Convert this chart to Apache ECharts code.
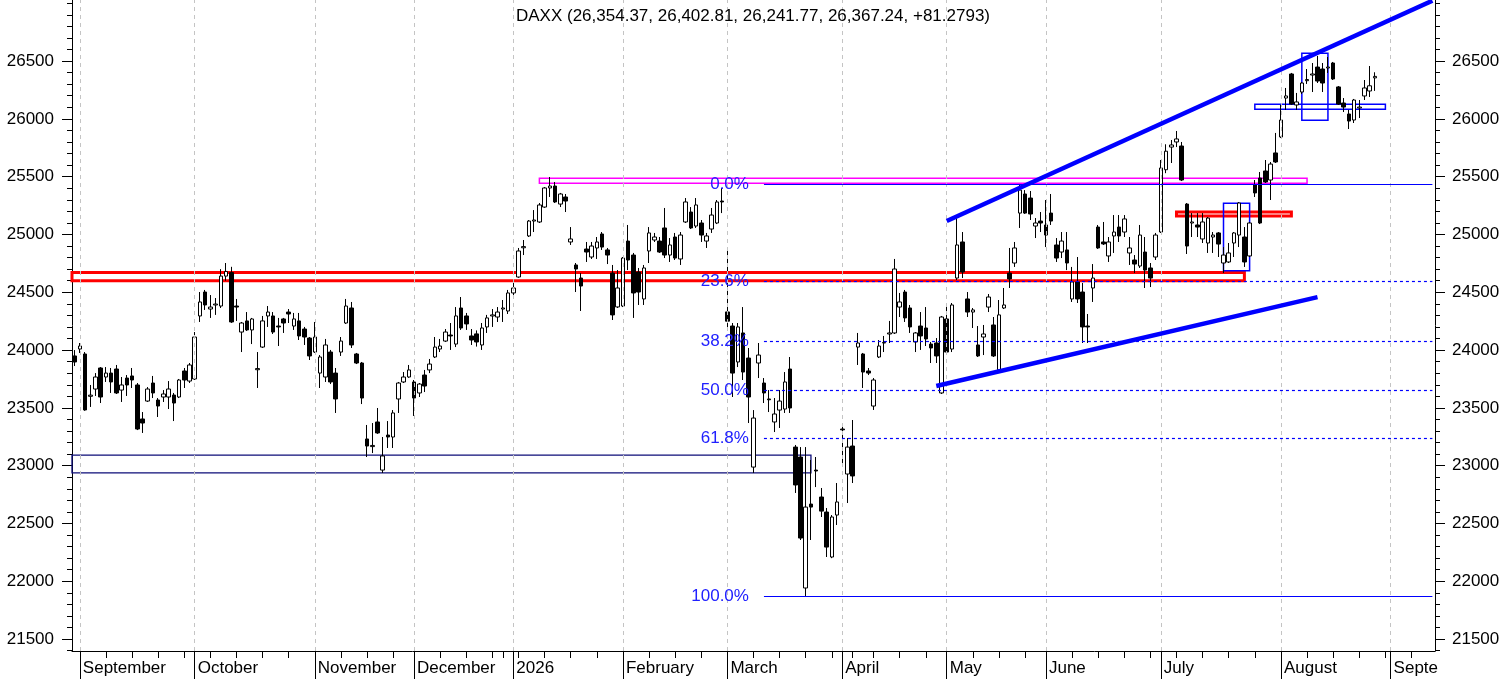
<!DOCTYPE html>
<html>
<head>
<meta charset="utf-8">
<script src="https://cdn.jsdelivr.net/npm/echarts@6/dist/echarts.min.js"></script>
<style>html,body{margin:0;padding:0;background:#fff}#main{width:1506px;height:679px}</style>
</head>
<body>
<div id="main"></div>
<script>
// ---------- DATA ----------
const seriesName = 'DAXX';
const holidays = ['2025-11-27','2025-12-24','2025-12-25','2025-12-26','2025-12-31','2026-01-01','2026-04-03','2026-04-06','2026-05-01','2026-05-25'];
const firstDay = '2025-08-29';
const lastDay = '2026-09-11';
const monthNames = ['January','February','March','April','May','June','July','August','September','October','November','December'];

const openP = [
 // Aug 29 + September
 23949,24009,23966,23600,23663,23845,23767,23801,23836,23654,23758,23776,23698,23404,23559,23715,23568,23594,23594,23611,23594,23819,23732,
 // October
 23750,24295,24502,24355,24390,24381,24640,24670,24381,24156,24252,24174,23830,24026,24295,24295,24208,24269,24329,24208,24252,24182,24104,
 // November
 23983,23801,23767,23983,23801,23983,24234,24364,23966,23888,23231,23165,23378,22962,23265,23248,23577,23724,23767,
 // December
 23724,23629,23784,23828,23940,24009,24078,24130,24052,24364,24295,24122,24140,24044,24200,24295,24286,24355,24338,
 // January
 24494,24632,24885,24987,25116,25108,25237,25402,25419,25263,25324,24935,24736,24623,24874,24805,24883,25004,24866,24666,24373,
 // February
 24381,24943,24822,24675,24442,24857,24952,24943,25056,24822,24978,24788,25108,25194,25073,25099,24943,25047,25099,25289,
 // March
 24330,24208,23897,24148,23931,22988,23888,23715,23577,23378,23481,23490,23836,23161,23075,21942,22668,22962,22729,22599,22210,22573,
 // April
 23317,22928,23170,24026,23966,23819,23516,23940,24061,24139,24148,24372,24502,24364,24070,24208,24191,24052,24061,23629,
 // May
 24269,24009,24623,24935,24442,24329,24044,24113,24372,24217,23828,24364,24666,24753,25185,25350,25315,25073,25116,
 // June
 25082,25185,24909,24848,24866,24442,24589,24502,24208,24537,25064,24935,24814,24987,25064,25021,24840,24779,24727,24848,24710,24805,
 // July
 25021,25560,25756,25800,25765,25263,25099,25082,24961,24926,24978,25013,24753,24762,24926,24995,24978,24814,25428,25488,25549,25471,25705,
 // August
 25843,26180,26388,26120,26232,26330,26379,26448,26431,26440,26483,26276,26137,26042,25990,26094,26198,26241,26354.37
];
const highP = [
 24000,24061,23983,23698,23801,23853,23853,23845,23871,23767,23784,23845,23715,23464,23680,23776,23585,23654,23732,23629,23750,23845,23888,
 24156,24502,24520,24476,24450,24700,24753,24720,24442,24243,24329,24278,23983,24295,24381,24329,24278,24278,24355,24321,24321,24200,24113,
 24243,23957,24096,24001,23845,24113,24442,24416,23975,23897,23352,23369,23499,23248,23386,23481,23724,23810,23871,
 23741,23715,23828,23923,24113,24096,24182,24234,24372,24459,24321,24182,24170,24234,24304,24355,24372,24433,24520,
 24606,24883,24952,25125,25211,25272,25410,25497,25454,25359,25350,25064,24753,24666,24935,24935,24978,25021,24883,24736,24692,
 24805,25082,24840,24710,24736,25064,25013,24978,25229,24969,25013,25021,25315,25237,25315,25125,25013,25229,25298,25402,
 24891,24234,24234,24372,24018,23481,24061,23758,23654,23585,23654,23810,23940,23179,23161,23161,23049,23075,22807,22634,22573,22850,
 23369,23239,23395,24148,23975,23845,23758,24087,24122,24252,24788,24494,24520,24390,24156,24329,24372,24070,24104,24295,
 24407,24407,25151,25021,24502,24364,24208,24217,24485,24286,24433,24537,24883,24935,25428,25384,25376,25142,25194,
 25298,25350,24969,25021,25021,24719,24805,24580,24312,24744,25082,25108,24978,25168,25168,25168,24978,24822,25082,24978,24753,25013,
 25644,25780,25817,25895,25800,25272,25185,25185,25185,25151,25021,25021,24891,24926,25021,25280,25064,25108,25471,25540,25644,25627,25878,
 26120,26267,26397,26224,26319,26431,26483,26544,26483,26535,26492,26284,26180,26077,26172,26163,26336,26457,26402.81
];
const lowP = [
 23862,23975,23475,23508,23603,23542,23724,23629,23620,23551,23603,23672,23308,23283,23551,23585,23421,23551,23490,23386,23585,23672,23715,
 23741,24243,24347,24278,24304,24364,24600,24235,24252,23983,24165,24052,23672,24018,24200,24139,24035,24148,24234,24174,24087,24044,23914,
 23975,23672,23724,23706,23456,23949,24226,24018,23879,23533,23075,23109,23275,22937,23153,23153,23456,23715,23760,
 23430,23594,23637,23801,23931,23983,24070,24001,24026,24174,24174,24044,24030,24001,24148,24200,24243,24243,24312,
 24450,24625,24822,24978,25021,25099,25230,25324,25272,25237,25194,24909,24502,24338,24762,24788,24788,24866,24744,24260,24364,
 24372,24692,24278,24390,24390,24753,24935,24840,24796,24762,24779,24736,25099,25047,25056,24935,24883,25013,25090,25185,
 24180,23594,23853,23741,23369,22937,23758,23542,23464,23291,23326,23456,23456,22764,22357,21873,22357,22815,22556,22210,22200,22487,
 23023,22677,22850,23871,23672,23784,23482,23931,23983,24061,24139,24286,24243,24148,23983,24001,24035,23888,23888,23620,
 23975,23983,24606,24623,24286,24191,23940,23957,24329,23940,23810,24355,24537,24719,25056,25177,25125,24969,25021,
 24891,25082,24762,24796,24692,24416,24407,24061,24061,24416,24875,24909,24762,24840,24935,24978,24736,24666,24710,24537,24545,24779,
 25013,25530,25618,25756,25462,24831,24978,24978,24926,24840,24840,24805,24666,24753,24805,24891,24719,24805,25324,25090,25445,25298,25618,
 25834,26077,26120,26077,26215,26302,26232,26310,26232,26397,26336,26120,26059,25912,25964,26007,26163,26189,26241.77
];
const closeP = [
 23897,24035,23482,23610,23767,23594,23801,23724,23629,23698,23698,23741,23317,23369,23663,23629,23516,23620,23663,23542,23741,23741,23871,
 24113,24416,24390,24372,24398,24640,24680,24243,24372,24234,24174,24269,23840,24252,24329,24156,24200,24234,24312,24269,24122,24113,23949,
 24113,23940,24044,23724,23577,24078,24381,24044,23888,23585,23170,23175,23283,23084,23248,23456,23715,23767,23828,
 23585,23706,23689,23879,24026,24035,24156,24122,24295,24191,24226,24087,24070,24191,24278,24304,24329,24364,24494,
 24537,24857,24895,25116,25125,25255,25402,25419,25281,25350,25289,24961,24701,24554,24848,24900,24935,24891,24822,24304,24537,
 24796,24779,24494,24502,24710,25013,24978,24848,24822,24909,24796,24995,25281,25056,25255,24995,24987,25168,25281,25281,
 24250,23801,24200,23810,23594,23412,23957,23629,23570,23447,23559,23724,23499,22833,22374,22642,22642,22954,22607,22296,22556,22686,
 23310,23161,22911,24061,23810,23801,23741,24035,24066,24148,24701,24416,24278,24200,24148,24122,24096,24018,23949,24286,
 23983,24390,24909,24675,24329,24347,23949,24139,24459,23949,24304,24390,24615,24883,25384,25185,25177,25099,25099,
 24995,25116,24796,24943,24753,24589,24442,24200,24200,24623,24883,24918,24935,25021,24987,25134,24883,24744,24995,24692,24623,24995,
 25575,25720,25774,25826,25471,24900,25108,25064,25108,25142,24995,24917,24822,24840,25013,25272,24762,25099,25359,25099,25454,25609,25627,
 25990,26198,26128,26146,26310,26340,26388,26327,26310,26448,26345,26128,26102,25981,26163,26102,26267,26285.9607,26367.24
];

// y-axis
const yRange = [21397, 27028];
const yTickValues = [21500, 22000, 22500, 23000, 23500, 24000, 24500, 25000, 25500, 26000, 26500];

// Fibonacci retracement (anchored at trading-day index 132)
const fibLabels = ['0.0%', '23.6%', '38.2%', '50.0%', '61.8%', '100.0%'];
const fibValues = [25436, 24595, 24075, 23655, 23234, 21873];
const fibStartIdx = 132;

// trend channel lines: [index, value]
const upperTrend = [[167, 25116], [260, 27022]];
const lowerTrend = [[165, 23689], [238, 24458]];

// rectangles: [fromIdx (null = left edge), toIdx, topValue, bottomValue]
const redRects = [[null, 224, 24671, 24600], [211, 233, 25194, 25160]];
const magentaRects = [[89, 236, 25486, 25442]];
const blueRects = [[226, 251, 26126, 26083], [235, 240, 26567, 25987], [220, 225, 25269, 24686]];
const navyRects = [[null, 141, 23092, 22937]];

// ---------- BUILD ----------
const FONT = '"Liberation Sans", Arial, Helvetica, sans-serif';
const GRID = {left: 72, right: 71, top: 0, bottom: 28};

function buildDays(a, b, hol) {
  const out = [];
  const [y0, m0, d0] = a.split('-').map(Number);
  let t = Date.UTC(y0, m0 - 1, d0);
  const [y1, m1, d1] = b.split('-').map(Number);
  const end = Date.UTC(y1, m1 - 1, d1);
  const hs = new Set(hol);
  while (t <= end) {
    const d = new Date(t);
    const dow = d.getUTCDay();
    const s = d.toISOString().slice(0, 10);
    if (dow !== 0 && dow !== 6 && !hs.has(s)) out.push(s);
    t += 86400000;
  }
  return out;
}
const dates = buildDays(firstDay, lastDay, holidays);
const N = dates.length;
const monthStart = dates.map((d, i) => i > 0 && d.slice(5, 7) !== dates[i - 1].slice(5, 7));
const weekStart = dates.map((d, i) => {
  if (i === 0) return false;
  const a = new Date(d + 'T00:00:00Z').getUTCDay();
  const b = new Date(dates[i - 1] + 'T00:00:00Z').getUTCDay();
  return a < b;
});

const el = document.getElementById('main');
const chart = echarts.init(el, null, {renderer: 'canvas'});
const plotW = chart.getWidth() - GRID.left - GRID.right;
const bandW = plotW / N;
const LABEL_SIZE = 17;
const measureCtx = document.createElement('canvas').getContext('2d');
measureCtx.font = LABEL_SIZE + 'px ' + FONT;
const labelText = dates.map((d, i) => {
  if (!monthStart[i]) return '';
  const m = Number(d.slice(5, 7)) - 1;
  let txt = m === 0 ? d.slice(0, 4) : monthNames[m];
  const startX = (i + 0.5) * bandW + 3;
  const avail = plotW - startX + 4;
  while (txt.length > 1 && measureCtx.measureText(txt).width > avail) txt = txt.slice(0, -1);
  return txt;
});

const candleData = openP.map((o, i) => [o, closeP[i], lowP[i], highP[i]]);
const last = openP.length - 1;
const prevClose = closeP[last - 1];
const fmt = v => v.toLocaleString('en-US', {minimumFractionDigits: 2, maximumFractionDigits: 2});
const chg = closeP[last] - prevClose;
const titleText = `${seriesName} (${fmt(openP[last])}, ${fmt(highP[last])}, ${fmt(lowP[last])}, ${fmt(closeP[last])}, ${chg >= 0 ? '+' : ''}${chg.toFixed(4)})`;

const yMinor = [];
for (let v = Math.ceil(yRange[0] / 100) * 100; v <= yRange[1]; v += 100) yMinor.push(v);

function yAx(pos, major) {
  return {
    type: 'value', gridIndex: 0, position: pos, min: yRange[0], max: yRange[1],
    axisLine: {show: major, lineStyle: {color: '#000', width: 1}},
    axisTick: {show: true, customValues: major ? yTickValues : yMinor, length: major ? 10 : 5, lineStyle: {color: '#000', width: 1}},
    axisLabel: major ? {show: true, customValues: yTickValues, formatter: v => String(v), color: '#000', fontSize: LABEL_SIZE, fontFamily: FONT, margin: pos === 'left' ? 18 : 17} : {show: false},
    splitLine: {show: false}
  };
}

function areaData(rects) {
  return rects.map(([x0, x1, y0, y1]) => [
    x0 == null ? {yAxis: y0} : {xAxis: dates[x0], yAxis: y0},
    {xAxis: dates[x1], yAxis: y1}
  ]);
}
function rectSeries(rects, color, width) {
  return {
    type: 'line', data: [], z: 4, silent: true,
    markArea: {
      silent: true, label: {show: false},
      itemStyle: {color: 'rgba(0,0,0,0)', borderColor: color, borderWidth: width},
      emphasis: {disabled: true},
      data: areaData(rects)
    }
  };
}
const fibLineData = fibValues.map((v, i) => {
  const solid = i === 0 || i === fibValues.length - 1;
  return [
    {coord: [dates[fibStartIdx], v], label: {formatter: fibLabels[i]},
     lineStyle: {type: solid ? 'solid' : [3, 3], color: '#0000ff', width: 1.2}},
    {coord: [dates[N - 1], v]}
  ];
});
function trendSeries(pts) {
  return {
    type: 'line', z: 6, silent: true, symbol: 'none', showSymbol: false,
    data: pts.map(([i, v]) => [dates[i], v]),
    lineStyle: {color: '#0000ff', width: 4.5}
  };
}

const option = {
  animation: false,
  backgroundColor: '#fff',
  textStyle: {fontFamily: FONT},
  title: {text: titleText, left: 'center', top: 8, padding: 0,
    textStyle: {fontSize: 17, fontWeight: 'normal', color: '#000', fontFamily: FONT}},
  grid: GRID,
  xAxis: [
    {type: 'category', data: dates, gridIndex: 0, position: 'bottom', boundaryGap: true,
     axisLine: {show: true, lineStyle: {color: '#000', width: 1}},
     axisTick: {show: true, alignWithLabel: true, length: 7, interval: (i) => weekStart[i], lineStyle: {color: '#000'}},
     axisLabel: {show: false}, splitLine: {show: false}},
    {type: 'category', data: dates, gridIndex: 0, position: 'bottom', boundaryGap: true,
     axisLine: {show: false},
     axisTick: {show: true, alignWithLabel: true, length: 28, interval: (i) => monthStart[i], lineStyle: {color: '#000'}},
     axisLabel: {show: true, interval: (i) => monthStart[i], formatter: (v, i) => labelText[i],
       align: 'left', padding: [0, 0, 0, 3], margin: 9, color: '#000', fontSize: LABEL_SIZE, fontFamily: FONT},
     splitLine: {show: false}}
  ],
  yAxis: [yAx('left', true), yAx('left', false), yAx('right', true), yAx('right', false)],
  series: [
    {
      type: 'line', data: [], z: 1, silent: true,
      markLine: {silent: true, symbol: ['none', 'none'], label: {show: false},
        lineStyle: {type: [4, 4], color: '#c4c4c4', width: 1},
        data: dates.map((d, i) => monthStart[i] ? {xAxis: d} : null).filter(Boolean)}
    },
    {
      type: 'candlestick', name: seriesName, xAxisIndex: 0, yAxisIndex: 0, z: 2,
      data: candleData, barWidth: 4,
      itemStyle: {color: '#ffffff', color0: '#000000', borderColor: '#000000', borderColor0: '#000000', borderColorDoji: '#000000', borderWidth: 1}
    },
    rectSeries(navyRects, '#0c0c78', 1.3),
    rectSeries(magentaRects, '#ff00ff', 1.5),
    rectSeries(redRects, '#ff0000', 3),
    rectSeries(blueRects, '#0000ff', 1.5),
    {
      type: 'line', data: [], z: 5, silent: true,
      markLine: {silent: true, symbol: ['none', 'none'],
        label: {show: true, position: 'start', distance: 15, color: '#2020ff', fontSize: 17, fontFamily: FONT},
        data: fibLineData}
    },
    trendSeries(upperTrend),
    trendSeries(lowerTrend)
  ]
};
chart.setOption(option);
</script>
</body>
</html>
